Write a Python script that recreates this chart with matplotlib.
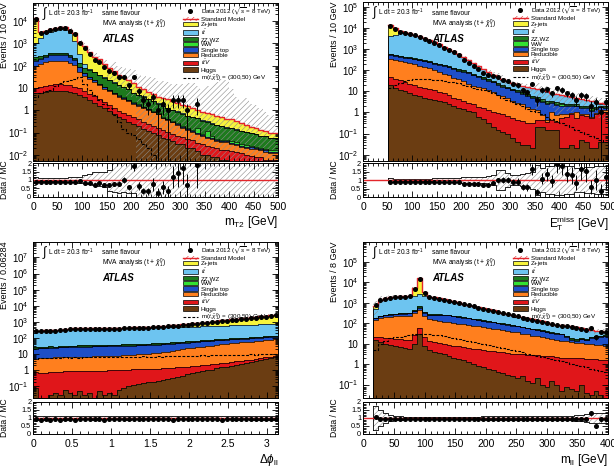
import numpy as np
import matplotlib
matplotlib.use('Agg')
import matplotlib.pyplot as plt
from matplotlib.ticker import LogLocator, FuncFormatter, AutoMinorLocator, NullFormatter
from matplotlib.patches import Patch
from matplotlib.lines import Line2D

plt.rcParams['font.family'] = ['Liberation Sans', 'DejaVu Sans']
plt.rcParams['mathtext.fontset'] = 'custom'
plt.rcParams['mathtext.rm'] = 'Liberation Sans'
plt.rcParams['mathtext.it'] = 'Liberation Sans:italic'
plt.rcParams['mathtext.bf'] = 'Liberation Sans:bold'
plt.rcParams['mathtext.fallback'] = 'stixsans'
plt.rcParams['hatch.linewidth'] = 0.4

# stack order, bottom to top
names = ['Higgs', r'$t\bar{t}V$', 'Reducible', 'Single top', 'WW', 'ZZ,WZ', r'$t\bar{t}$', 'Z+jets']
colors = ['#6b3d12', '#e0161a', '#ff7f1e', '#1e4fc8', '#33e033', '#1d7a1d', '#6dc4f0', '#f7f43c']

# ---- m_T2 ----
mt2_edges = np.arange(0, 501, 10)
mt2_higgs = [6, 6, 6.5, 7, 7, 7, 7, 6.5, 6, 5, 4, 3, 2.2, 1.6, 1.2, 0.9, 0.7, 0.5, 0.4, 0.3, 0.25, 0.2, 0.15, 0.12, 0.1, 0.08, 0.06, 0.05, 0.04, 0.03, 0.03, 0.02, 0.02, 0.015, 0.01, 0.01, 0.008, 0.008, 0.006, 0.006, 0.005, 0.005, 0.004, 0.004, 0.003, 0.003, 0.003, 0.002, 0.002, 0.002]
mt2_ttv = [4, 5, 6, 7, 7.5, 7.5, 7, 6.5, 5.5, 4.5, 3.5, 2.5, 2, 1.5, 1.1, 0.8, 0.6, 0.45, 0.35, 0.3, 0.25, 0.2, 0.15, 0.12, 0.1, 0.08, 0.07, 0.06, 0.05, 0.04, 0.035, 0.03, 0.025, 0.02, 0.02, 0.015, 0.015, 0.012, 0.01, 0.01, 0.01, 0.008, 0.008, 0.006, 0.006, 0.005, 0.005, 0.004, 0.004, 0.004]
mt2_red = [90, 110, 130, 145, 150, 150, 140, 120, 90, 45, 28, 20, 15, 10, 7, 5.5, 4, 3, 2.5, 2, 1.5, 1.2, 1, 0.8, 0.6, 0.5, 0.3, 0.25, 0.2, 0.15, 0.1, 0.08, 0.06, 0.05, 0.04, 0.03, 0.03, 0.02, 0.02, 0.02, 0.015, 0.015, 0.01, 0.01, 0.01, 0.01, 0.008, 0.008, 0.006, 0.006]
mt2_st = [60, 80, 110, 140, 150, 150, 140, 120, 80, 30, 10, 5, 3, 2, 1.5, 1, 0.7, 0.5, 0.4, 0.3, 0.2, 0.15, 0.1, 0.08, 0.06, 0.05, 0.04, 0.03, 0.02, 0.02, 0.015, 0.01, 0.01, 0.01, 0.008, 0.008, 0.006, 0.006, 0.005, 0.005, 0.004, 0.004, 0.003, 0.003, 0.003, 0.002, 0.002, 0.002, 0.002, 0.002]
mt2_ww = [15, 18, 22, 25, 25, 25, 22, 18, 12, 5, 2, 1.2, 0.8, 0.6, 0.4, 0.3, 0.25, 0.2, 0.15, 0.12, 0.1, 0.08, 0.06, 0.05, 0.04, 0.035, 0.03, 0.03, 0.02, 0.02, 0.02, 0.015, 0.015, 0.06, 0.01, 0.05, 0.01, 0.008, 0.008, 0.006, 0.006, 0.005, 0.005, 0.004, 0.004, 0.003, 0.003, 0.003, 0.002, 0.002]
mt2_zz = [60, 40, 35, 35, 35, 35, 35, 35, 35, 35, 33, 30, 28, 22, 18, 14, 11, 9, 7, 5.5, 3.5, 3, 2.5, 2, 1.6, 1.2, 1, 0.8, 0.7, 0.6, 0.5, 0.4, 0.35, 0.3, 0.25, 0.2, 0.18, 0.16, 0.14, 0.12, 0.12, 0.1, 0.09, 0.08, 0.07, 0.06, 0.05, 0.05, 0.04, 0.04]
mt2_tt = [800, 1500, 2500, 3000, 3500, 3800, 3800, 2500, 1000, 200, 40, 8, 3, 2, 1.5, 1, 0.8, 0.6, 0.5, 0.4, 0.3, 0.25, 0.2, 0.15, 0.1, 0.08, 0.06, 0.05, 0.04, 0.03, 0.02, 0.02, 0.015, 0.01, 0.01, 0.01, 0.008, 0.008, 0.006, 0.006, 0.005, 0.005, 0.004, 0.004, 0.003, 0.003, 0.003, 0.002, 0.002, 0.002]
mt2_z = [12000, 1500, 900, 850, 830, 1000, 1050, 1200, 1550, 800, 650, 350, 200, 150, 90, 52, 42, 24, 19, 14, 10, 6, 4.5, 3, 2.8, 2.0, 2.0, 1.8, 1.5, 1.2, 1.0, 0.9, 0.8, 0.6, 0.5, 0.45, 0.4, 0.35, 0.3, 0.25, 0.25, 0.2, 0.15, 0.1, 0.08, 0.07, 0.06, 0.05, 0.04, 0.04]
mt2_sig = [4, 6, 7, 8, 12, 16, 20, 22, 25, 30, 15, 8, 5, 3, 2, 1.2, 0.6, 0.3, 0.15, 0.1, 0.08, 0.05, 0.03, 0.02, 0.01, 0, 0, 0, 0, 0, 0, 0, 0, 0, 0, 0, 0, 0, 0, 0, 0, 0, 0, 0, 0, 0, 0, 0, 0, 0]
mt2_data = [11700, 2950, 3300, 3750, 4200, 4650, 4650, 3600, 2500, 1080, 640, 340, 180, 150, 85, 55, 45, 30, 31, 13, 30, 7, 3, 2, 4, 1, 2, 1, 3, 3, 3, 1, 0, 2, 0, 0, 0, 0, 0, 0, 0, 0, 0, 0, 0, 0, 0, 0, 0, 0]
mt2_up = [0.15, 0.1, 0.1, 0.1, 0.12, 0.12, 0.12, 0.15, 0.15, 0.2, 0.3, 0.35, 0.45, 0.45, 0.45, 0.6, 1.5, 1.5, 2, 2, 3, 3, 3, 4, 4, 4, 5, 5, 5, 6, 8, 10, 12, 10, 10, 15, 20, 30, 50, 50, 20, 10, 10, 15, 10, 10, 8, 6, 5, 5]
mt2_dn = [0.1, 0.08, 0.08, 0.08, 0.08, 0.08, 0.1, 0.12, 0.15, 0.2, 0.2, 0.25, 0.3, 0.35, 0.4, 0.65, 0.7, 0.75, 0.7, 0.8, 0.75, 1, 1, 1, 1, 1, 1, 1, 1, 1, 1, 1, 1, 1, 1, 1, 1, 1, 1, 1, 1, 1, 1, 1, 1, 1, 1, 1, 1, 1]

# ---- E_T^miss ----
met_edges = np.arange(50, 501, 10)
met_higgs = [20, 15, 12, 10, 8, 7, 6, 5, 4.5, 4, 3.5, 3, 2.5, 2, 1.7, 1.4, 1.2, 1, 0.6, 0.5, 0.3, 0.2, 0.15, 0.12, 0.1, 0.06, 0.04, 0.03, 0.03, 0.02, 0.2, 0.2, 0.15, 0.15, 0.15, 0.02, 0.02, 0.03, 0.02, 0.05, 0.04, 0.02, 0.02, 0.04, 0.04]
met_ttv = [30, 25, 22, 18, 15, 12, 10, 9, 8, 7, 6, 5, 4, 3, 2.5, 2, 1.7, 1.5, 1.3, 1.1, 1, 0.9, 0.8, 0.7, 0.6, 0.5, 0.4, 0.35, 0.3, 0.3, 0.25, 0.25, 0.2, 0.3, 0.2, 0.5, 0.6, 0.8, 0.5, 0.7, 0.6, 0.5, 0.8, 0.9, 1.0]
met_red = [300, 270, 240, 210, 190, 170, 150, 130, 110, 90, 75, 60, 50, 40, 32, 26, 20, 16, 14, 12, 10, 8, 6, 5, 4, 3, 2.5, 2, 1.5, 1.2, 0.8, 0.3, 0.1, 0.6, 0.4, 0.3, 0.2, 0.1, 0.5, 0.1, 0.2, 0.1, 0.1, 0.3, 0.2]
met_st = [200, 180, 170, 160, 150, 140, 130, 120, 110, 100, 95, 90, 80, 70, 60, 55, 50, 40, 32, 26, 21, 17, 14, 11, 9, 7.5, 6, 5, 4, 3.3, 2.8, 2.3, 2, 1.7, 1.5, 1.3, 1.1, 1, 0.9, 0.8, 0.7, 0.6, 0.5, 0.5, 0.4]
met_ww = [20, 20, 18, 17, 16, 15, 14, 13, 12, 11, 10, 9, 8, 7, 6, 5.5, 5, 3.5, 3, 2.6, 2.2, 1.9, 1.6, 1.4, 1.2, 1, 0.9, 0.8, 0.7, 0.6, 0.5, 0.45, 0.4, 0.35, 0.3, 0.3, 0.25, 0.25, 0.2, 0.2, 0.2, 0.15, 0.15, 0.15, 0.15]
met_zz = [40, 35, 30, 27, 25, 22, 20, 18, 16, 14, 12, 11, 10, 9, 8, 7, 6, 4.5, 4, 3.5, 3, 2.6, 2.2, 1.9, 1.6, 1.4, 1.2, 1, 0.9, 0.8, 0.7, 0.6, 0.5, 0.45, 0.4, 0.35, 0.3, 0.3, 0.25, 0.25, 0.2, 0.2, 0.2, 0.15, 0.15]
met_tt = [3500, 4200, 5000, 5300, 5000, 4470, 3740, 2985, 2425, 1965, 1525, 1135, 860, 670, 466, 320, 204, 142, 96, 63, 42, 31, 23, 16, 13, 11, 10, 8.8, 8.5, 7.8, 7.2, 6.9, 6.4, 4.8, 4.3, 3.7, 3.4, 3, 2.3, 2.2, 2, 1.9, 1.2, 0.6, 0.6]
met_z = [10000, 5000, 2000, 900, 300, 60, 30, 20, 15, 10, 8, 6, 5, 4, 3, 2, 1.5, 1.2, 1, 0.8, 0.6, 0.5, 0.4, 0.3, 0.25, 0.2, 0.2, 0.15, 0.1, 0.1, 0.08, 0.06, 0.05, 0.05, 0.04, 0.04, 0.03, 0.03, 0.03, 0.02, 0.02, 0.02, 0.02, 0.01, 0.01]
met_sig = [14, 20, 25, 30, 35, 38, 40, 40, 38, 36, 33, 31, 29, 27, 24, 20, 17, 15, 13, 11, 10, 8, 6.5, 5, 4, 3.2, 2.5, 2, 1.5, 1.2, 1, 0.8, 0.6, 0.5, 0.4, 0.3, 0.25, 0.2, 0.15, 0.12, 0.1, 0.08, 0.06, 0.05, 0.04]
met_data = [12700, 8800, 6750, 6000, 5150, 4400, 3700, 2970, 2430, 1980, 1530, 1160, 900, 710, 510, 315, 218, 158, 114, 77, 56, 53, 48, 36, 30, 22, 19, 11, 9, 23, 4, 12, 13, 8, 14, 12, 8, 7, 4, 7, 6, 2, 3, 1, 3]
met_unc = [0.1, 0.08, 0.08, 0.08, 0.08, 0.08, 0.08, 0.08, 0.08, 0.1, 0.1, 0.1, 0.1, 0.12, 0.12, 0.15, 0.15, 0.18, 0.2, 0.2, 0.25, 0.3, 0.6, 0.6, 0.4, 0.3, 0.3, 0.35, 0.4, 0.5, 0.9, 0.7, 0.8, 0.8, 0.9, 0.9, 0.8, 0.8, 0.7, 0.7, 0.75, 0.75, 0.8, 0.8, 0.85]

# ---- Delta phi_ll ----
dphi_edges = np.arange(51) * 0.06284
dphi_higgs = [0.08, 0.02, 0.01, 0.03, 0.04, 0.03, 0.06, 0.04, 0.03, 0.05, 0.03, 0.04, 0.02, 0.05, 0.03, 0.04, 0.03, 0.06, 0.08, 0.1, 0.12, 0.14, 0.16, 0.18, 0.2, 0.22, 0.26, 0.3, 0.35, 0.4, 0.45, 0.55, 0.65, 0.75, 0.85, 1.0, 1.1, 1.3, 1.5, 1.7, 1.9, 2.2, 2.5, 2.8, 3.2, 3.6, 4.2, 5.0, 5.6, 6.5]
dphi_ttv = [0.65, 0.7, 0.7, 0.75, 0.75, 0.8, 0.8, 0.8, 0.85, 0.85, 0.85, 0.9, 0.9, 0.9, 0.9, 0.95, 0.95, 0.95, 1, 1, 1, 1, 1, 1.05, 1.05, 1.05, 1.05, 1.1, 1.1, 1.1, 1.1, 1.15, 1.15, 1.15, 1.2, 1.2, 1.2, 1.25, 1.25, 1.25, 1.3, 1.3, 1.3, 1.35, 1.35, 1.35, 1.4, 1.4, 1.4, 1.45]
dphi_red = [4.5, 5, 5, 5, 5.5, 5.5, 5.5, 6, 6, 6, 6, 6, 6.5, 6.5, 6.5, 7, 7, 7, 7.5, 8, 8, 8.5, 9, 9.5, 10, 11, 12, 13, 15, 17, 19, 21, 23, 25, 27, 30, 32, 35, 38, 40, 43, 46, 50, 53, 56, 60, 64, 68, 72, 76]
dphi_st = [17, 18, 18, 19, 18, 20, 20, 21, 21, 22, 22, 22, 23, 23, 23, 24, 24, 24, 25, 25, 25, 26, 26, 26, 27, 27, 28, 28, 29, 29, 30, 30, 31, 31, 32, 32, 33, 33, 34, 34, 35, 35, 36, 36, 37, 37, 38, 38, 39, 40]
dphi_ww = [2, 2, 2, 2, 2.2, 2.2, 2.2, 2.4, 2.4, 2.4, 2.5, 2.5, 2.6, 2.6, 2.7, 2.8, 2.8, 2.9, 3, 3, 3.1, 3.2, 3.3, 3.4, 3.5, 3.6, 3.7, 3.8, 4, 4.1, 4.2, 4.4, 4.5, 4.7, 4.8, 5, 5.2, 5.4, 5.6, 5.8, 6, 6.2, 6.4, 6.6, 6.8, 7, 7.2, 7.4, 7.6, 7.8]
dphi_zz = [3, 3, 3, 3.1, 3.1, 3.2, 3.2, 3.3, 3.3, 3.4, 3.4, 3.5, 3.5, 3.6, 3.6, 3.7, 3.7, 3.8, 3.8, 3.9, 4, 4.1, 4.2, 4.3, 4.4, 4.5, 4.6, 4.8, 5, 5.2, 5.4, 5.6, 5.8, 6, 6.2, 6.4, 6.6, 6.8, 7, 7.2, 7.4, 7.6, 7.8, 8, 8.2, 8.4, 8.6, 8.8, 9, 9.2]
dphi_tt = [250, 255, 260, 270, 285, 300, 320, 340, 350, 355, 360, 362, 365, 368, 370, 372, 375, 378, 380, 383, 386, 390, 395, 400, 405, 410, 415, 420, 425, 430, 435, 440, 445, 450, 455, 460, 470, 480, 490, 500, 510, 520, 530, 540, 550, 560, 570, 580, 590, 600]
dphi_z = [5, 5, 5, 6, 6, 6, 7, 7, 8, 8, 9, 10, 11, 12, 13, 14, 16, 18, 20, 22, 25, 30, 36, 45, 60, 75, 95, 115, 140, 170, 200, 240, 290, 340, 390, 450, 510, 580, 650, 730, 820, 910, 1000, 1100, 1220, 1350, 1500, 1650, 1850, 2100]
dphi_sig = [5, 5.5, 6, 5.5, 6, 6, 6.5, 6, 6.5, 6, 6.5, 7, 6.5, 7, 6.5, 7, 7, 6.5, 7, 7, 6.5, 7, 7.5, 7, 7, 7.5, 7, 7.5, 8, 7.5, 8, 7.5, 8, 8, 8.5, 8, 8.5, 9, 8.5, 9, 9, 9.5, 9, 9.5, 10, 9.5, 10, 10, 10.5, 10]
dphi_data = [255, 258, 268, 272, 290, 300, 325, 345, 350, 360, 362, 368, 370, 378, 376, 385, 388, 390, 398, 400, 408, 415, 430, 440, 462, 478, 505, 530, 555, 590, 625, 670, 720, 775, 825, 890, 955, 1030, 1100, 1190, 1280, 1380, 1470, 1580, 1700, 1830, 1980, 2120, 2320, 2560]
dphi_unc = [0.12, 0.1, 0.11, 0.1, 0.1, 0.1, 0.11, 0.1, 0.1, 0.1, 0.1, 0.1, 0.12, 0.1, 0.1, 0.1, 0.1, 0.1, 0.1, 0.11, 0.1, 0.1, 0.1, 0.1, 0.1, 0.1, 0.1, 0.1, 0.12, 0.1, 0.1, 0.1, 0.1, 0.1, 0.1, 0.1, 0.1, 0.1, 0.11, 0.1, 0.1, 0.12, 0.1, 0.1, 0.12, 0.12, 0.13, 0.14, 0.13, 0.12]

# ---- m_ll ----
mll_edges = np.arange(16, 401, 8)
mll_higgs = [15, 12, 10, 9, 8, 7, 6, 5.5, 10, 30, 8, 5, 4, 3.5, 3, 2.5, 2, 1.8, 1.5, 1.2, 1, 0.8, 0.7, 0.6, 0.5, 0.4, 0.35, 0.3, 0.25, 0.2, 0.25, 0.15, 0.12, 0.2, 0.1, 0.08, 0.15, 0.1, 0.05, 0.08, 0.06, 0.05, 0.1, 0.04, 0.03, 0.05, 0.03, 0.02]
mll_ttv = [7, 8, 9, 9, 9, 9, 9, 9, 15, 30, 12, 9, 8, 7.5, 7, 6.5, 6, 5.5, 5, 4.8, 4.6, 4.4, 4.2, 4, 3.8, 3.6, 3.4, 3.2, 3, 2.9, 2.8, 2.7, 2.6, 2.5, 2.4, 2.3, 2.2, 2.1, 2, 2, 1.9, 1.9, 1.8, 1.8, 1.7, 1.7, 1.6, 1.6]
mll_red = [120, 160, 180, 190, 200, 210, 210, 220, 280, 400, 200, 140, 130, 120, 110, 100, 90, 85, 80, 75, 70, 65, 60, 55, 50, 46, 42, 38, 35, 32, 28, 25, 22, 20, 18, 16, 14, 13, 12, 11, 10, 9, 8.5, 8, 7.5, 7, 6.5, 6]
mll_st = [30, 40, 50, 55, 60, 65, 70, 70, 80, 120, 110, 100, 110, 120, 130, 130, 120, 110, 100, 90, 80, 72, 65, 60, 55, 50, 46, 42, 38, 34, 31, 28, 25, 23, 21, 19, 17, 15, 14, 8, 3, 3, 6, 5, 10, 12, 14, 16]
mll_ww = [3, 4, 5, 5, 5, 5, 5, 5, 5, 6, 6, 6, 6, 6, 6, 6, 5.5, 5.5, 5, 5, 4.5, 4.5, 4, 4, 3.5, 3.5, 3, 3, 2.8, 2.6, 2.4, 2.2, 2, 1.8, 1.7, 1.6, 1.5, 1.4, 1.3, 1.5, 2, 1.2, 1, 1, 0.9, 0.9, 0.8, 0.8]
mll_zz = [5, 6, 7, 7, 8, 8, 8, 10, 40, 120, 30, 10, 8, 8, 7, 7, 6, 6, 5.5, 5, 5, 4.5, 4.5, 4, 4, 3.5, 3.5, 3, 3, 2.8, 2.6, 2.4, 2.2, 2, 1.8, 1.7, 1.6, 1.5, 1.4, 1.3, 1.2, 1.1, 1, 1, 0.9, 0.9, 0.8, 0.8]
mll_tt = [320, 1090, 1390, 1580, 1670, 1750, 1750, 1820, 1800, 1800, 1800, 1690, 1510, 1320, 1175, 1040, 910, 800, 700, 615, 530, 465, 410, 350, 300, 260, 220, 200, 177, 154, 132, 119, 105, 90, 80, 69, 58, 52, 49, 51, 52, 46, 37, 33, 25, 19, 16, 13]
mll_z = [200, 80, 50, 40, 40, 40, 45, 60, 3000, 13000, 1000, 40, 20, 15, 12, 10, 8, 7, 6, 5, 4, 3.5, 3, 2.5, 2, 1.8, 1.6, 1.4, 1.2, 1, 0.9, 0.8, 0.7, 0.6, 0.5, 0.5, 0.4, 0.4, 0.3, 0.3, 0.3, 0.2, 0.2, 0.2, 0.2, 0.1, 0.1, 0.1]
mll_sig = [5, 10, 14, 18, 20, 22, 24, 26, 28, 30, 30, 28, 27, 25, 23, 21, 19, 17, 15, 13.5, 12, 11, 10, 9, 8, 7, 6.2, 5.5, 4.8, 4.2, 3.7, 3.2, 2.8, 2.5, 2.2, 2, 1.8, 1.6, 1.4, 1.2, 1, 0.9, 0.8, 0.7, 0.6, 0.5, 0.45, 0.4]
mll_data = [735, 1300, 1580, 1770, 1860, 1950, 1950, 2050, 4900, 14500, 2950, 1860, 1670, 1490, 1350, 1210, 1070, 950, 840, 745, 650, 575, 510, 445, 390, 345, 300, 270, 240, 215, 186, 168, 150, 130, 116, 102, 88, 80, 74, 70, 65, 58, 52, 47, 60, 20, 37, 35]
mll_unc = [0.75, 0.5, 0.3, 0.2, 0.12, 0.1, 0.08, 0.08, 0.08, 0.08, 0.08, 0.08, 0.08, 0.08, 0.08, 0.08, 0.08, 0.08, 0.08, 0.08, 0.08, 0.08, 0.1, 0.1, 0.1, 0.1, 0.1, 0.1, 0.1, 0.1, 0.1, 0.1, 0.1, 0.1, 0.12, 0.12, 0.12, 0.12, 0.15, 0.15, 0.15, 0.2, 0.2, 0.25, 0.3, 0.3, 0.3, 0.3]

SMRED = '#e3262b'
HATCH = '//////'


def ext(v):
    return np.append(v, v[-1])


def outline(ax, edges, vals, bottom, **kw):
    xs = np.concatenate([[edges[0]], np.repeat(edges, 2)[1:-1], [edges[-1]]])
    ys = np.concatenate([[bottom], np.repeat(vals, 2), [bottom]])
    ax.plot(xs, ys, **kw)


def logfmt(v, pos):
    e = int(round(np.log10(v)))
    if e == 0:
        return '1'
    if e == 1:
        return '10'
    return r'$10^{%d}$' % e


def draw(ax, axr, edges, comps, data, sig, up, dn, ylim):
    edges = np.asarray(edges, float)
    cum = np.cumsum(np.array(comps, float), axis=0)
    sm = cum[-1]
    floor = ylim[0] * 0.1
    for i in range(len(cum) - 1, -1, -1):
        v = np.maximum(cum[i], floor)
        ax.fill_between(edges, floor, ext(v), step='post', color=colors[i], lw=0)
        outline(ax, edges, v, floor, color='k', lw=0.5)
    up = np.array(up, float)
    dn = np.array(dn, float)
    hi = sm * (1 + up)
    lo = np.maximum(sm * (1 - dn), floor)
    ax.fill_between(edges, ext(lo), ext(hi), step='post', facecolor='none',
                    edgecolor='#8c8c8c', hatch=HATCH, lw=0)
    ax.step(edges, ext(sm), where='post', color=SMRED, lw=1.0)
    s = np.maximum(np.array(sig, float), floor)
    ax.step(edges, ext(s), where='post', color='k', lw=0.8, ls=(0, (2.5, 1.5)))

    n = np.array(data, float)
    c = 0.5 * (edges[1:] + edges[:-1])
    m = n > 0
    err = np.sqrt(n)
    ax.errorbar(c[m], n[m], yerr=[np.minimum(err[m], n[m] * 0.999), err[m]], fmt='o',
                ms=2.6, color='k', elinewidth=0.7, capsize=0, zorder=5)

    # ratio panel
    rlo = np.maximum(1 - dn, 0)
    rhi = 1 + up
    axr.fill_between(edges, ext(rlo), ext(rhi), step='post', facecolor='none',
                     edgecolor='#8c8c8c', hatch=HATCH, lw=0)
    axr.step(edges, ext(rhi), where='post', color='k', lw=0.6)
    axr.step(edges, ext(rlo), where='post', color='k', lw=0.6)
    axr.plot([edges[0], edges[0]], [rlo[0], rhi[0]], color='k', lw=0.6)
    axr.plot([edges[-1], edges[-1]], [rlo[-1], rhi[-1]], color='k', lw=0.6)
    axr.axhline(1, color=SMRED, lw=1.0)
    axr.errorbar(c[m], n[m] / sm[m], yerr=err[m] / sm[m], fmt='o', ms=2.6, color='k',
                 elinewidth=0.7, capsize=0, zorder=5)


def style(ax, axr, xlim, xticks, xticklabels, ylim, ylabel, xlabel):
    ax.set_yscale('log')
    ax.set_ylim(*ylim)
    ax.set_xlim(*xlim)
    ax.yaxis.set_major_locator(LogLocator(base=10, numticks=30))
    ax.yaxis.set_minor_locator(LogLocator(base=10, subs=np.arange(2, 10), numticks=300))
    ax.yaxis.set_major_formatter(FuncFormatter(logfmt))
    ax.yaxis.set_minor_formatter(NullFormatter())
    for a in (ax, axr):
        a.set_xticks(xticks)
        a.xaxis.set_minor_locator(AutoMinorLocator(5))
        a.tick_params(which='both', direction='in', top=True, right=True, labelsize=7, width=0.6)
        a.tick_params(which='major', length=4)
        a.tick_params(which='minor', length=2)
        for sp in a.spines.values():
            sp.set_linewidth(0.7)
    ax.tick_params(labelbottom=False)
    ax.set_ylabel(ylabel, fontsize=6.5, loc='top', labelpad=2)
    axr.set_xlim(*xlim)
    axr.set_ylim(0, 2)
    axr.set_yticks([0, 0.5, 1, 1.5, 2])
    axr.set_yticklabels(['0', '0.5', '1', '1.5', '2'])
    axr.yaxis.set_minor_locator(AutoMinorLocator(5))
    axr.tick_params(axis='y', labelsize=5.3, pad=1.5)
    axr.set_xticklabels(xticklabels)
    axr.tick_params(axis='x', labelsize=7.5)
    axr.set_ylabel('Data / MC', fontsize=6.2, labelpad=2)
    axr.set_xlabel(xlabel, fontsize=8.5, loc='right', labelpad=2)
    ax.yaxis.set_label_coords(-0.1, 1.0)
    axr.yaxis.set_label_coords(-0.1, 0.5)

    handles = [Line2D([], [], marker='o', ls='none', color='k', ms=2.6),
               (Patch(facecolor='white', edgecolor=SMRED, hatch=HATCH, lw=0),
                Line2D([], [], color=SMRED, lw=1.0))]
    for i in range(len(colors) - 1, -1, -1):
        handles.append(Patch(facecolor=colors[i], edgecolor='k', lw=0.5))
    handles.append(Line2D([], [], color='k', lw=0.8, ls=(0, (2.5, 1.5))))
    labels = [r'Data 2012 ($\sqrt{s}$ = 8 TeV)', 'Standard Model'] + names[::-1] + \
             [r'm($\tilde{t}$,$\tilde{\chi}^{0}_{1}$) = (300,50) GeV']
    ax.legend(handles, labels, loc='upper left', bbox_to_anchor=(0.6, 1.0), frameon=False,
              fontsize=4.5, handlelength=2.4, handleheight=0.7, handletextpad=0.5,
              labelspacing=0.0, borderpad=0.3, borderaxespad=0.1)

    ax.text(0.035, 0.93, r'$\int$', transform=ax.transAxes, fontsize=9, va='center')
    ax.text(0.06, 0.935, r'L dt = 20.3 fb$^{-1}$', transform=ax.transAxes,
            fontsize=4.8, va='center')
    ax.text(0.28, 0.93, 'same flavour', transform=ax.transAxes, fontsize=4.8, va='center')
    ax.text(0.28, 0.86, r'MVA analysis (t + $\tilde{\chi}^{0}_{1}$)', transform=ax.transAxes,
            fontsize=4.8, va='center')
    ax.text(0.28, 0.77, 'ATLAS', transform=ax.transAxes, fontsize=7, va='center',
            weight='bold', style='italic')


fig = plt.figure(figsize=(6.14, 4.71), dpi=100)

ax1 = fig.add_axes([0.0543, 0.6588, 0.3985, 0.3355])
ax1r = fig.add_axes([0.0543, 0.5824, 0.3985, 0.0709])
draw(ax1, ax1r, mt2_edges,
     [mt2_higgs, mt2_ttv, mt2_red, mt2_st, mt2_ww, mt2_zz, mt2_tt, mt2_z],
     mt2_data, mt2_sig, mt2_up, mt2_dn, (0.0055, 6.6e4))
xt = np.arange(0, 501, 50)
style(ax1, ax1r, (0, 500), xt, [str(v) for v in xt], (0.0055, 6.6e4),
      'Events / 10 GeV', r'm$_{\mathrm{T2}}$ [GeV]')

ax2 = fig.add_axes([0.5917, 0.6582, 0.399, 0.3376])
ax2r = fig.add_axes([0.5917, 0.5817, 0.399, 0.0722])
draw(ax2, ax2r, met_edges,
     [met_higgs, met_ttv, met_red, met_st, met_ww, met_zz, met_tt, met_z],
     met_data, met_sig, met_unc, met_unc, (0.005, 1.7e5))
style(ax2, ax2r, (0, 500), xt, [str(v) for v in xt], (0.005, 1.7e5),
      'Events / 10 GeV', r'E$_{\mathrm{T}}^{\mathrm{miss}}$ [GeV]')

ax3 = fig.add_axes([0.0543, 0.155, 0.3985, 0.3318])
ax3r = fig.add_axes([0.0543, 0.0786, 0.3985, 0.0686])
draw(ax3, ax3r, dphi_edges,
     [dphi_higgs, dphi_ttv, dphi_red, dphi_st, dphi_ww, dphi_zz, dphi_tt, dphi_z],
     dphi_data, dphi_sig, dphi_unc, dphi_unc, (0.019, 9.5e7))
xt3 = [0, 0.5, 1, 1.5, 2, 2.5, 3]
style(ax3, ax3r, (0, np.pi), xt3, ['0', '0.5', '1', '1.5', '2', '2.5', '3'], (0.019, 9.5e7),
      'Events / 0.06284', r'$\Delta\phi_{\mathrm{ll}}$')

ax4 = fig.add_axes([0.5917, 0.155, 0.399, 0.3318])
ax4r = fig.add_axes([0.5917, 0.0786, 0.399, 0.068])
draw(ax4, ax4r, mll_edges,
     [mll_higgs, mll_ttv, mll_red, mll_st, mll_ww, mll_zz, mll_tt, mll_z],
     mll_data, mll_sig, mll_unc, mll_unc, (0.022, 9.5e5))
xt4 = np.arange(0, 401, 50)
style(ax4, ax4r, (0, 400), xt4, [str(v) for v in xt4], (0.022, 9.5e5),
      'Events / 8 GeV', r'm$_{\mathrm{ll}}$ [GeV]')

fig.savefig('out.png', dpi=100)
